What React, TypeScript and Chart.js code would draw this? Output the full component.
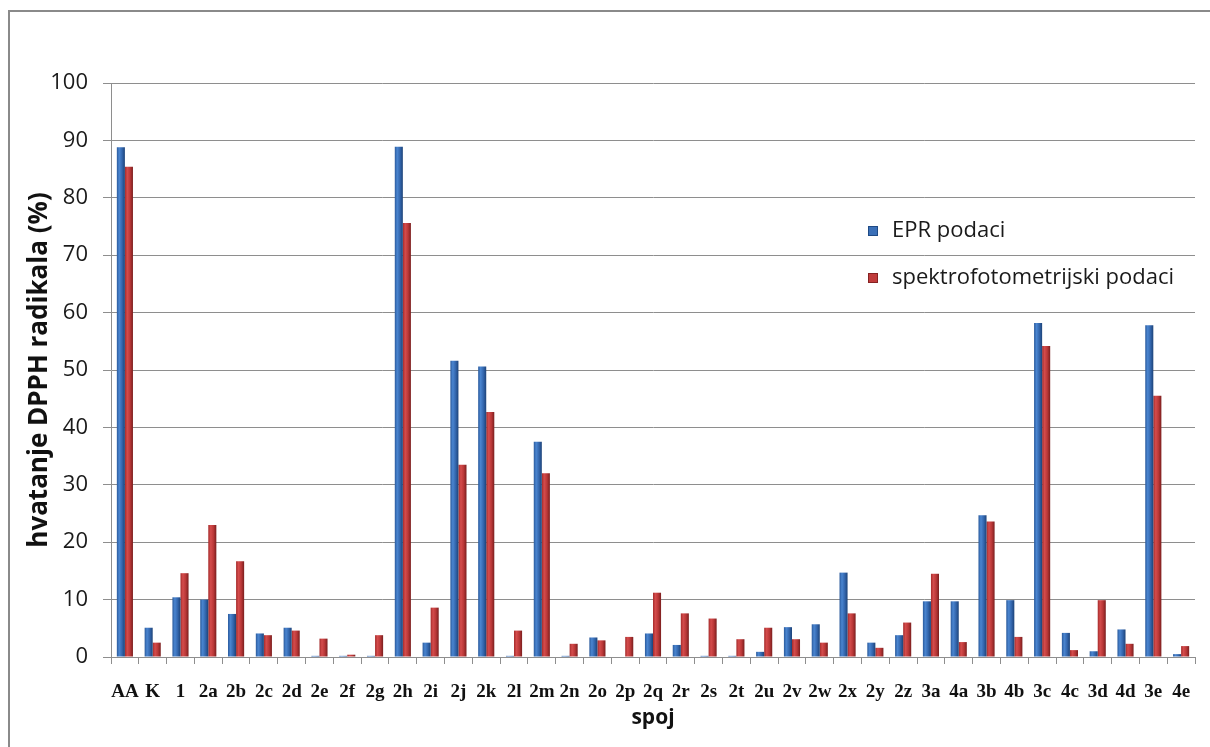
import { useEffect, useRef } from "react";
import { Chart, registerables } from "chart.js";

Chart.register(...registerables);

const categories = [
  "AA", "K", "1", "2a", "2b", "2c", "2d", "2e", "2f", "2g", "2h", "2i", "2j",
  "2k", "2l", "2m", "2n", "2o", "2p", "2q", "2r", "2s", "2t", "2u", "2v", "2w",
  "2x", "2y", "2z", "3a", "4a", "3b", "4b", "3c", "4c", "3d", "4d", "3e", "4e",
];

const eprValues = [
  88.8, 5.1, 10.4, 10.0, 7.5, 4.1, 5.1, 0.2, 0.2, 0.2, 88.9, 2.5, 51.6,
  50.6, 0.2, 37.5, 0.2, 3.4, 0, 4.1, 2.1, 0.2, 0.2, 0.9, 5.2, 5.7,
  14.7, 2.5, 3.8, 9.7, 9.7, 24.7, 9.9, 58.2, 4.2, 1.0, 4.8, 57.8, 0.5,
];

const spektroValues = [
  85.4, 2.5, 14.6, 23.0, 16.7, 3.8, 4.6, 3.2, 0.4, 3.8, 75.6, 8.6, 33.5,
  42.7, 4.6, 32.0, 2.3, 2.9, 3.5, 11.2, 7.6, 6.7, 3.1, 5.1, 3.1, 2.5,
  7.6, 1.6, 6.0, 14.5, 2.6, 23.6, 3.5, 54.2, 1.2, 9.9, 2.3, 45.5, 1.9,
];

const seriesLabels = ["EPR podaci", "spektrofotometrijski podaci"];

const yMin = 0;
const yMax = 100;
const yStep = 10;

const CAT_PCT = 0.58;

const blueStops: [number, string][] = [
  [0, "#2a5a9c"],
  [0.3, "#4a85d0"],
  [0.65, "#3366ad"],
  [1, "#1d4378"],
];
const redStops: [number, string][] = [
  [0, "#a52b2b"],
  [0.3, "#d44c4c"],
  [0.65, "#b93737"],
  [1, "#7a1e1e"],
];

function barGradient(ctx: any, stops: [number, string][]) {
  const chart = ctx.chart;
  const xs = chart.scales && chart.scales.x;
  if (!xs || !chart.chartArea || ctx.type !== "data") return stops[2][1];
  const c = xs.getPixelForValue(ctx.dataIndex);
  const catW = xs.width / categories.length;
  const w = (catW * CAT_PCT) / 2;
  const left = ctx.datasetIndex === 0 ? c - w : c;
  const g = chart.ctx.createLinearGradient(left, 0, left + w, 0);
  stops.forEach(([o, col]) => g.addColorStop(o, col));
  return g;
}

const legendPlugin = {
  id: "insideLegend",
  afterDraw(chart: any) {
    const { ctx, chartArea } = chart;
    const x0 = chartArea.left + 757;
    const rows = [chartArea.top + 148, chartArea.top + 195];
    const fills = ["#3a70b8", "#c03c3c"];
    const edges = ["#1f4a85", "#862222"];
    ctx.save();
    ctx.font = "22px 'Open Sans'";
    ctx.textBaseline = "middle";
    chart.data.datasets.forEach((ds: any, i: number) => {
      const y = rows[i];
      ctx.fillStyle = fills[i];
      ctx.fillRect(x0, y - 5, 10, 10);
      ctx.strokeStyle = edges[i];
      ctx.lineWidth = 1;
      ctx.strokeRect(x0 + 0.5, y - 4.5, 9, 9);
      ctx.fillStyle = "#1a1a1a";
      ctx.fillText(ds.label, x0 + 24, y);
    });
    ctx.restore();
  },
};

export default function App() {
  const ref = useRef<HTMLCanvasElement>(null);

  useEffect(() => {
    if (!ref.current) return;
    const gridColor = "#8e8e8e";
    const chart = new Chart(ref.current, {
      type: "bar",
      data: {
        labels: categories,
        datasets: [
          {
            label: seriesLabels[0],
            data: eprValues,
            backgroundColor: (c: any) => barGradient(c, blueStops),
            borderWidth: 0,
            barPercentage: 1,
            categoryPercentage: CAT_PCT,
          },
          {
            label: seriesLabels[1],
            data: spektroValues,
            backgroundColor: (c: any) => barGradient(c, redStops),
            borderWidth: 0,
            barPercentage: 1,
            categoryPercentage: CAT_PCT,
          },
        ],
      },
      options: {
        animation: false,
        responsive: false,
        layout: { padding: { top: 71, right: 15, left: 0, bottom: 0 } },
        plugins: {
          legend: { display: false },
          tooltip: { enabled: false },
        },
        scales: {
          x: {
            afterFit: (s: any) => {
              s.height = 90;
            },
            grid: {
              drawOnChartArea: false,
              drawTicks: true,
              tickLength: 7,
              color: gridColor,
              offset: true,
            },
            border: { color: gridColor, width: 1 },
            ticks: {
              autoSkip: false,
              maxRotation: 0,
              minRotation: 0,
              padding: 17,
              color: "#111",
              font: { family: "'Liberation Serif'", size: 19, weight: "bold" },
            },
            title: {
              display: true,
              text: "spoj",
              color: "#111",
              font: { family: "'Open Sans'", size: 21, weight: "bold" },
              padding: { top: 0, bottom: 16 },
            },
          },
          y: {
            min: yMin,
            max: yMax,
            afterFit: (s: any) => {
              s.width = 101;
            },
            grid: {
              color: gridColor,
              tickLength: 8,
              lineWidth: 1,
            },
            border: { color: gridColor, width: 1 },
            ticks: {
              stepSize: yStep,
              padding: 15,
              color: "#1a1a1a",
              font: { family: "'Open Sans'", size: 22 },
            },
            title: {
              display: true,
              text: "hvatanje DPPH radikala (%)",
              color: "#111",
              font: { family: "'Open Sans'", size: 26, weight: "bold" },
              padding: { top: 14, bottom: 0 },
            },
          },
        },
      },
      plugins: [legendPlugin],
    } as any);
    return () => chart.destroy();
  }, []);

  return (
    <div
      style={{
        position: "fixed",
        left: 8,
        top: 10,
        width: 1202,
        height: 737,
        borderTop: "2px solid #8a8a8a",
        borderLeft: "2px solid #8a8a8a",
        background: "#fff",
        boxSizing: "border-box",
      }}
    >
      <canvas ref={ref} width={1200} height={735} style={{ display: "block" }} />
    </div>
  );
}
